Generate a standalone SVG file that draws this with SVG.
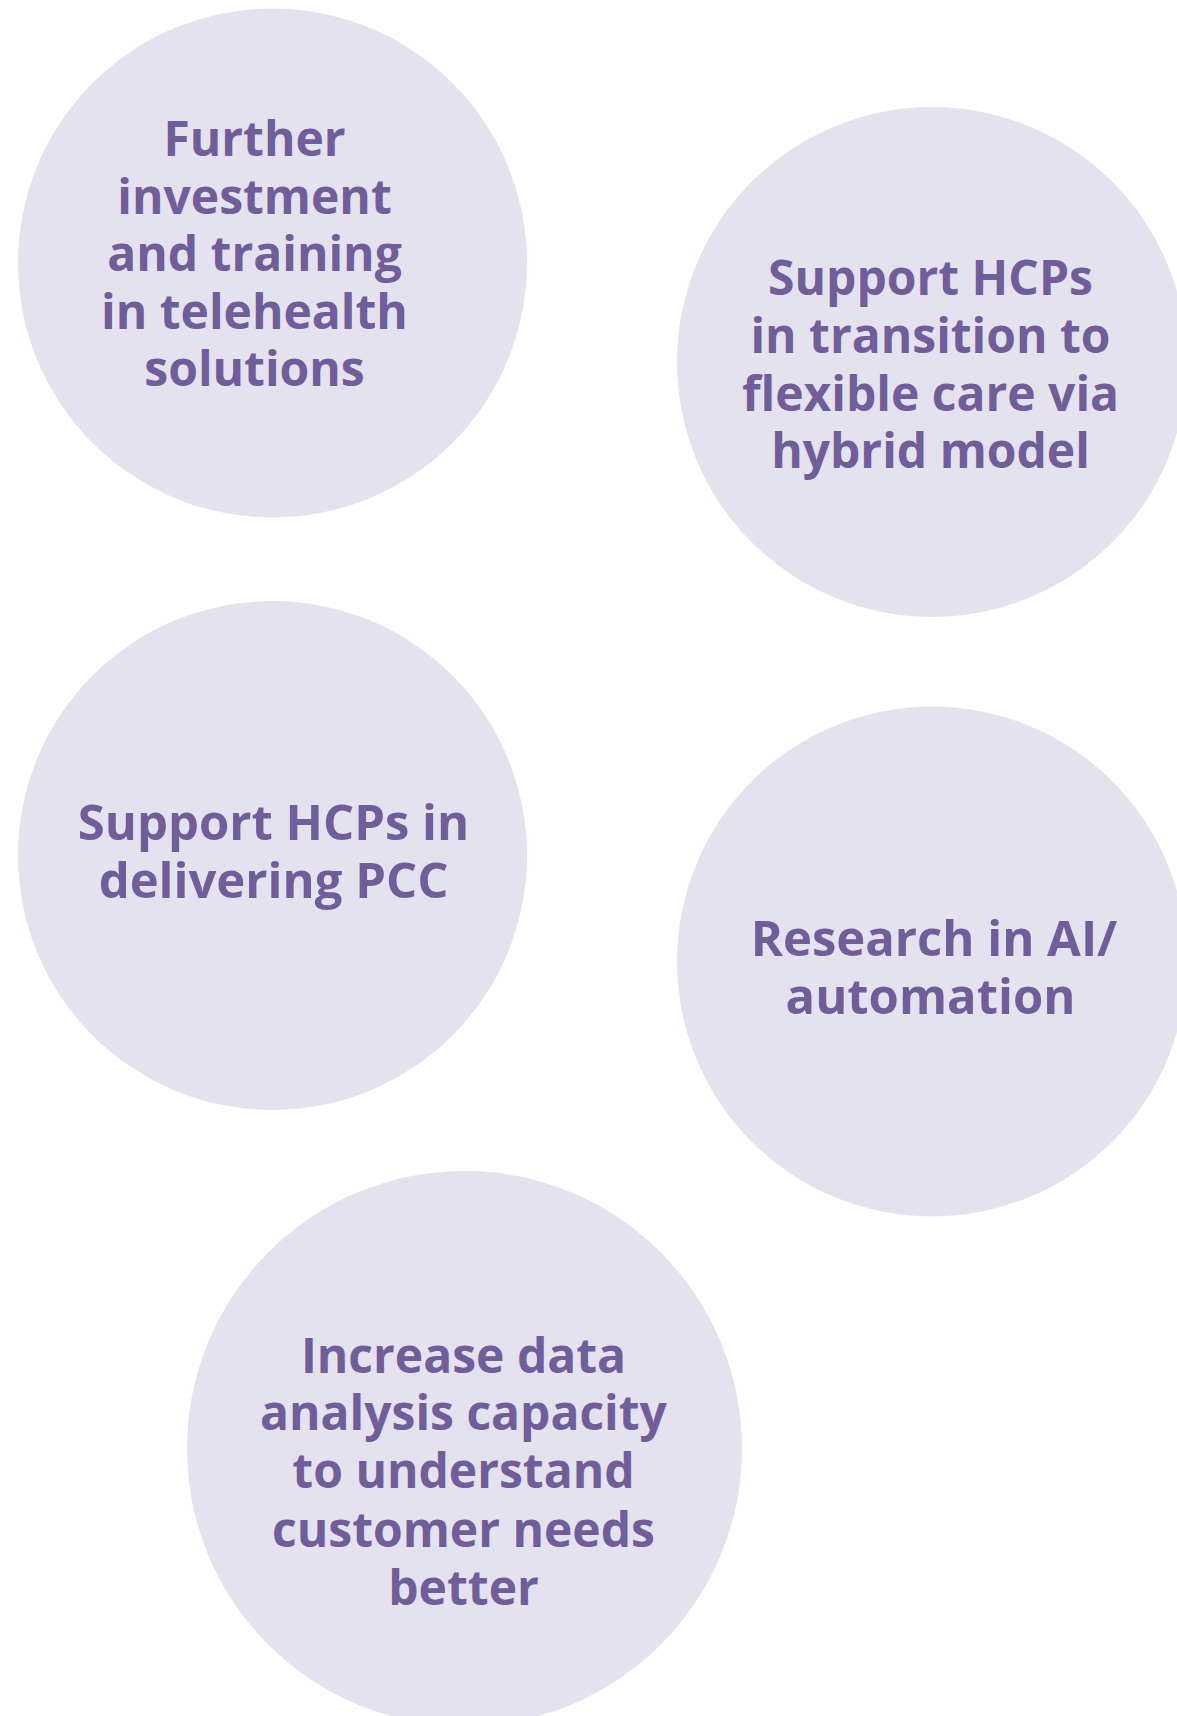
<svg xmlns="http://www.w3.org/2000/svg" width="1177" height="1716" viewBox="0 0 1177 1716">
<style>
.bubble{fill:#E4E2EF}
.lbl{fill:#705D9A;font-family:"Open Sans","Liberation Sans",sans-serif;font-weight:700;font-size:48px;text-anchor:middle}
.wide{font-size:49px}
</style>
<rect width="1177" height="1716" fill="#FFFFFF"/>
<g id="connectors"/>
<g id="node-telehealth">
<circle class="bubble" cx="272.5" cy="263" r="254.5"/>
<text class="lbl" x="254.5"><tspan x="254.5" y="156">Further</tspan><tspan x="254.5" y="213.5">investment</tspan><tspan x="254.5" y="271">and training</tspan><tspan x="254.5" y="328.5">in telehealth</tspan><tspan x="254.5" y="386">solutions</tspan></text>
</g>
<g id="node-hybrid">
<circle class="bubble" cx="932" cy="362" r="255"/>
<text class="lbl" x="930.5"><tspan x="930.5" y="295">Support HCPs</tspan><tspan x="930.5" y="353">in transition to</tspan><tspan x="930.5" y="410.5">flexible care via</tspan><tspan x="930.5" y="468">hybrid model</tspan></text>
</g>
<g id="node-pcc">
<circle class="bubble" cx="272.5" cy="855.5" r="254.5"/>
<text class="lbl wide" x="273.5"><tspan x="273.5" y="840">Support HCPs in</tspan><tspan x="273.5" y="898">delivering PCC</tspan></text>
</g>
<g id="node-ai">
<circle class="bubble" cx="932" cy="961.5" r="255"/>
<text class="lbl wide" x="934"><tspan x="934" y="956">Research in AI/</tspan><tspan x="930.5" y="1013.5">automation</tspan></text>
</g>
<g id="node-data">
<circle class="bubble" cx="464.5" cy="1448.5" r="277.5"/>
<text class="lbl" x="463.5"><tspan x="463.5" y="1373">Increase data</tspan><tspan x="463.5" y="1430">analysis capacity</tspan><tspan x="463.5" y="1488">to understand</tspan><tspan x="463.5" y="1546.5">customer needs</tspan><tspan x="463.5" y="1604.5">better</tspan></text>
</g>
</svg>
